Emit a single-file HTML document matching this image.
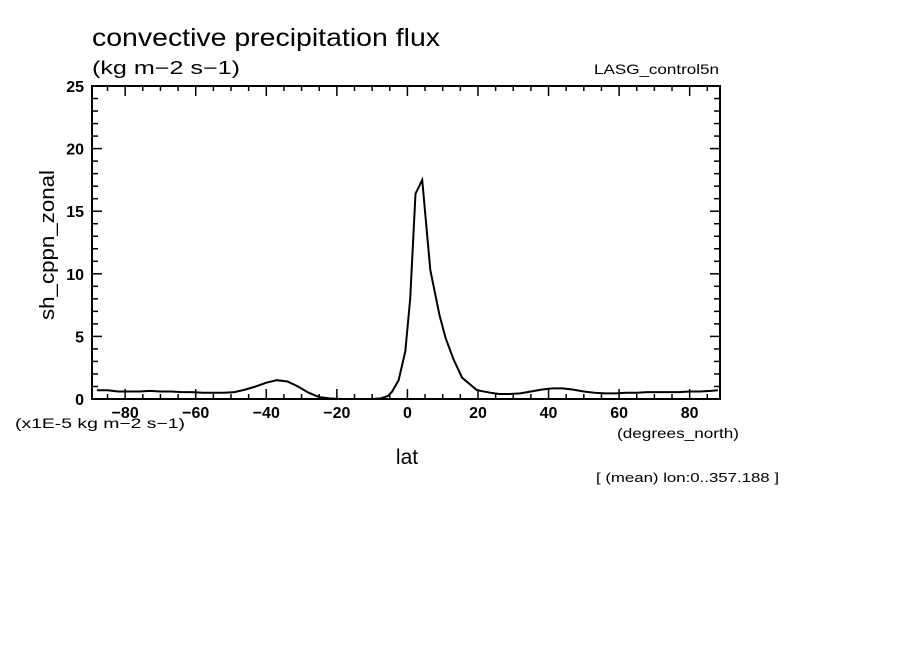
<!DOCTYPE html>
<html><head><meta charset="utf-8"><style>
body{margin:0;background:#fff}
svg text{font-family:"Liberation Sans",sans-serif;fill:#000}
</style></head><body>
<svg id="chart" width="904" height="654" xmlns="http://www.w3.org/2000/svg">
<rect width="904" height="654" fill="#fff"/>
<text x="92" y="46" font-size="25" textLength="348" lengthAdjust="spacingAndGlyphs">convective precipitation flux</text>
<text x="92" y="74" font-size="18" textLength="148" lengthAdjust="spacingAndGlyphs">(kg m−2 s−1)</text>
<text x="594" y="74" font-size="14" textLength="125" lengthAdjust="spacingAndGlyphs">LASG_control5n</text>
<text transform="translate(54,245) rotate(-90)" font-size="20" text-anchor="middle" textLength="150" lengthAdjust="spacingAndGlyphs">sh_cppn_zonal</text>
<text x="15" y="428" font-size="14" textLength="170" lengthAdjust="spacingAndGlyphs">(x1E-5 kg m−2 s−1)</text>
<text x="617" y="438" font-size="14" textLength="122" lengthAdjust="spacingAndGlyphs">(degrees_north)</text>
<text x="407" y="464" font-size="21" text-anchor="middle">lat</text>
<text x="596" y="482" font-size="13" textLength="183" lengthAdjust="spacingAndGlyphs">[ (mean) lon:0..357.188 ]</text>
<g id="axes"></g>
<path id="line" fill="none" stroke="#000" stroke-width="2"/>
<rect x="92" y="86" width="628" height="313" fill="none" stroke="#000" stroke-width="2"/>
</svg>
<script>
const lats=[-88,-85,-82,-79,-76,-73,-70,-67,-64,-61,-58,-55,-52,-49,-46,-43,-40,-37,-34,-31,-28,-25,-22,-19,-16,-13,-10,-7.6,-5.5,-4.3,-2.5,-0.6,0.8,2.3,4.2,6.5,9.1,10.8,13,15.5,19.7,23.5,26,29,32,35,38,41,44,47,50,53,56,59,62,65,68,71,74,77,80,83,86,88];
const vals=[0.7,0.7,0.6,0.6,0.6,0.65,0.6,0.6,0.55,0.55,0.5,0.5,0.5,0.55,0.75,1.0,1.3,1.5,1.4,1.0,0.5,0.15,0.05,0.0,0.0,0.0,0.0,0.05,0.25,0.6,1.5,3.8,8,16.4,17.5,10.3,6.7,4.9,3.2,1.7,0.7,0.5,0.4,0.4,0.45,0.6,0.75,0.85,0.85,0.75,0.6,0.5,0.45,0.45,0.5,0.5,0.55,0.55,0.55,0.55,0.6,0.6,0.65,0.7];
const xTicks=[-80,-60,-40,-20,0,20,40,60,80];
const yTicks=[0,5,10,15,20,25];
const X0=92,X1=720,Y0=399,Y1=86,LMIN=-89.4,LMAX=88.6;
const sx=v=>X0+(v-LMIN)/(LMAX-LMIN)*(X1-X0);
const sy=v=>Y0-(v/25)*(Y0-Y1);
const NS="http://www.w3.org/2000/svg";
const ax=document.getElementById('axes');
function line(x1,y1,x2,y2,name){const l=document.createElementNS(NS,'line');
l.setAttribute('x1',x1);l.setAttribute('y1',y1);l.setAttribute('x2',x2);l.setAttribute('y2',y2);
l.setAttribute('stroke','#000');l.setAttribute('stroke-width','1.5');


ax.appendChild(l);}
function txt(x,y,s,anchor,name){const t=document.createElementNS(NS,'text');
t.setAttribute('x',x);t.setAttribute('y',y);t.setAttribute('font-size','16');t.setAttribute('font-weight','bold');t.setAttribute('text-anchor',anchor);t.textContent=s;


ax.appendChild(t);}
for(let v=-85;v<=85;v+=5){const big=v%20===0;const L=big?10:5;const x=sx(v);
line(x,Y0,x,Y0-L,'x-tick');line(x,Y1,x,Y1+L,'x-tick');}
for(let v=0;v<=25;v+=1){const big=v%5===0;const L=big?10:6;const y=sy(v);
line(X0,y,X0+L,y,'y-tick');line(X1,y,X1-L,y,'y-tick');}
xTicks.forEach(v=>txt(sx(v),418,v<0?'−'+(-v):String(v),'middle','x-tick-label'));
yTicks.forEach(v=>txt(84,sy(v)+6,String(v),'end','y-tick-label'));
document.getElementById('line').setAttribute('d',lats.map((l,i)=>(i?'L':'M')+sx(l).toFixed(1)+','+sy(vals[i]).toFixed(1)).join(''));
</script>
</body></html>
